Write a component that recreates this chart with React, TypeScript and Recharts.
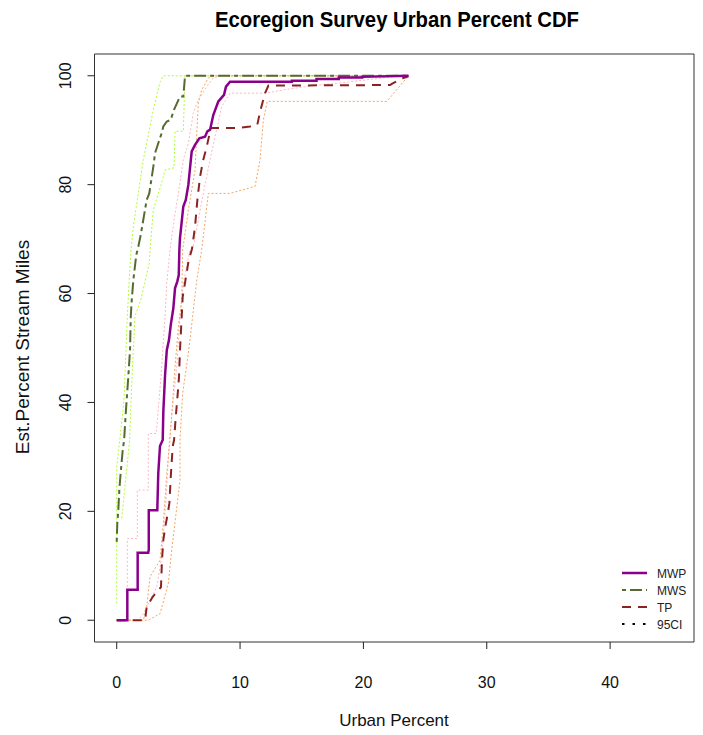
import React from 'react';
import { LineChart, Line, XAxis, YAxis, ReferenceArea } from 'recharts';

// CDF curves: [urban percent, est. percent stream miles]
const mwp: [number, number][] = [
  [0, 0], [0.86, 0], [0.86, 5.6], [1.7, 5.6], [1.7, 12.4], [2.56, 12.4], [2.6, 13], [2.6, 20.2],
  [3.29, 20.2], [3.37, 27], [3.51, 32], [3.73, 33.1], [3.78, 38.3], [3.92, 45], [4.06, 49.6],
  [4.24, 51.5], [4.38, 54.2], [4.59, 57.3], [4.73, 61], [4.91, 62.2], [5.03, 63.4], [5.08, 68],
  [5.13, 70.2], [5.4, 76], [5.6, 77.2], [5.81, 80], [6.08, 86.1], [6.35, 87.3], [6.7, 88.5],
  [7.16, 88.8], [7.35, 89.8], [7.57, 90.1], [7.83, 92.8], [8.24, 95.3], [8.7, 96.5], [8.86, 98],
  [9.19, 98.9], [14.2, 98.9], [14.2, 99.1], [16.2, 99.1], [16.2, 99.4], [18.0, 99.4], [18.0, 99.7],
  [19.9, 99.7], [19.9, 99.8], [23.65, 100],
];

const mws: [number, number][] = [
  [0, 14.4], [0.05, 17.8], [0.13, 20.2], [0.21, 23.9], [0.32, 27], [0.49, 31.3], [0.6, 33.1],
  [0.75, 38.6], [0.94, 44.7], [1.08, 49.6], [1.14, 55.8], [1.22, 58.8], [1.35, 62.5], [1.54, 66.2],
  [1.62, 67.4], [1.75, 68.6], [1.95, 70.8], [2.43, 77.2], [2.64, 78.4], [2.97, 83.3], [3.11, 85.8],
  [3.37, 87.6], [3.65, 89.5], [3.78, 90.7], [4.06, 91.6], [4.38, 91.9], [4.65, 93.8], [5.13, 96.2],
  [5.4, 96.2], [5.54, 100], [23.7, 100],
];

const tp: [number, number][] = [
  [0, 0], [2.3, 0], [2.43, 2.4], [2.92, 4.3], [3.59, 6.1], [3.67, 11], [3.78, 14.7], [3.94, 17.2],
  [4.14, 19.6], [4.27, 21.5], [4.4, 27], [4.54, 31.9], [4.65, 33.1], [4.79, 37.4], [4.95, 41.7],
  [5.05, 44.7], [5.13, 49.6], [5.27, 55.8], [5.35, 59.4], [5.62, 63.1], [5.84, 66.2], [6.08, 68],
  [6.13, 68.6], [6.35, 72.3], [6.54, 77.2], [6.76, 81.5], [7.02, 84.6], [7.3, 87], [7.57, 89.8],
  [7.65, 90.4], [9.73, 90.4], [10.81, 90.7], [11.4, 91], [11.62, 93.4], [12.03, 96.8], [12.3, 98.2],
  [22.17, 98.3], [22.3, 98.5], [23.24, 99.6], [23.65, 99.9],
];

// 95% confidence bounds
const mwsUpper: [number, number][] = [
  [0, 3.1], [0, 28.2], [0.25, 33.1], [0.59, 40.4], [0.75, 49.6], [0.86, 55.8], [1.0, 61.9],
  [1.16, 68], [1.35, 72.3], [1.75, 78.4], [2.03, 82.7], [2.16, 84.6], [2.7, 90.7], [2.97, 93.8],
  [3.29, 96.8], [3.51, 98.8], [3.78, 100], [23.7, 100],
];
const mwsLower: [number, number][] = [
  [0.41, 18.7], [1.05, 33.1], [1.22, 43.5], [1.35, 49.6], [1.48, 55.8], [1.95, 58.8], [2.64, 65.6],
  [2.7, 68], [2.97, 75.4], [3.37, 78.4], [3.57, 79.7], [3.92, 82.7], [4.65, 83.1], [4.73, 89.8],
  [5.4, 89.8], [5.54, 100], [23.7, 100],
];
const mwpUpper: [number, number][] = [
  [0, 0], [0.86, 0], [0.86, 15], [1.67, 15], [1.67, 23.9], [2.56, 23.9], [2.56, 34.3], [3.2, 34.3],
  [3.59, 44.7], [3.73, 49.6], [3.92, 55.8], [4.06, 61.9], [4.32, 68], [4.65, 73.5], [5.0, 78.4],
  [5.4, 84.6], [5.81, 87.6], [6.21, 93.1], [6.62, 95.6], [7.3, 98], [7.83, 99.6], [8.38, 100],
  [23.7, 100],
];
const mwpLower: [number, number][] = [
  [0, 0], [1.75, 0], [2.16, 1.2], [3.24, 6.1], [3.65, 11.6], [4.0, 22], [4.27, 33.1], [4.59, 40.4],
  [4.87, 46.6], [5.13, 55.8], [5.4, 61.9], [5.94, 68], [6.21, 68.6], [7.02, 78.4], [7.57, 84.6],
  [7.97, 88.8], [8.52, 94.4], [9.19, 96.8], [12.03, 96.8], [13.79, 97.5], [16.22, 98.3],
  [17.84, 98.6], [21.9, 99.7], [23.65, 100],
];
const tpUpper: [number, number][] = [
  [0, 0], [2.16, 0], [2.43, 2.4], [2.7, 8], [3.51, 11], [3.78, 17.8], [4.06, 27], [4.32, 33.1],
  [4.73, 46.6], [5.0, 53.9], [5.27, 58.8], [5.35, 68], [5.81, 75.4], [6.35, 82.7], [6.49, 89.5],
  [6.62, 95], [6.89, 97.4], [7.43, 99.6], [8.0, 100], [23.7, 100],
];
const tpLower: [number, number][] = [
  [0, 0], [2.56, 0], [3.51, 1.2], [4.18, 6.7], [4.46, 12.9], [5.13, 25.7], [5.13, 33.1],
  [5.35, 41.7], [5.73, 47.8], [5.94, 51.5], [6.49, 62.5], [6.89, 68], [7.43, 78.4], [9.19, 78.4],
  [11.22, 79.7], [11.62, 84.6], [11.89, 91.9], [12.21, 95.3], [21.9, 95.3], [23.65, 100],
];

const xTicks = [0, 10, 20, 30, 40];
const yTicks = [0, 20, 40, 60, 80, 100];

const legendItems = [
  { name: 'MWP', color: '#8B008B', dash: undefined, width: 2.5 },
  { name: 'MWS', color: '#556B2F', dash: '4 4 12 4', width: 2 },
  { name: 'TP', color: '#8B2323', dash: '9 7', width: 2 },
  { name: '95CI', color: '#000000', dash: '2.5 8', width: 2 },
];

const rows = (pts: [number, number][]) => pts.map(([x, y]) => ({ x, y }));

const font = "'Liberation Sans', Arial, sans-serif";

const YTick = (props: any) => {
  const { x, y, payload } = props;
  return (
    <text
      x={x}
      y={y}
      transform={`rotate(-90, ${x}, ${y})`}
      textAnchor="middle"
      fontSize={16}
      fontFamily={font}
      fill="#111"
    >
      {payload.value}
    </text>
  );
};

export default function App() {
  return (
    <div style={{ position: 'absolute', left: 0, top: 0, width: 703, height: 735, background: '#fff' }}>
      <LineChart width={703} height={735} margin={{ top: 54, right: 9, left: 34.5, bottom: 43 }}>
        <XAxis
          type="number"
          dataKey="x"
          domain={[-1.8, 46.8]}
          ticks={xTicks}
          allowDataOverflow
          axisLine={false}
          tickSize={7}
          tickMargin={28}
          height={50}
          tickLine={{ stroke: '#222' }}
          tick={{ fontSize: 16, fontFamily: font, fill: '#111' }}
        />
        <YAxis
          type="number"
          domain={[-4, 104]}
          ticks={yTicks}
          allowDataOverflow
          axisLine={false}
          tickSize={7}
          tickMargin={16}
          width={60}
          tickLine={{ stroke: '#222' }}
          tick={<YTick />}
        />
        <ReferenceArea x1={-1.8} x2={46.8} y1={-4} y2={104} fill="none" stroke="#333" strokeWidth={1} />
        <Line data={rows(mwsUpper)} dataKey="y" stroke="#ADFF2F" strokeWidth={1} strokeDasharray="2 2" dot={false} activeDot={false} isAnimationActive={false} />
        <Line data={rows(mwsLower)} dataKey="y" stroke="#ADFF2F" strokeWidth={1} strokeDasharray="2 2" dot={false} activeDot={false} isAnimationActive={false} />
        <Line data={rows(mwpUpper)} dataKey="y" stroke="#FFB6C1" strokeWidth={1} strokeDasharray="2 2" dot={false} activeDot={false} isAnimationActive={false} />
        <Line data={rows(mwpLower)} dataKey="y" stroke="#FFB6C1" strokeWidth={1} strokeDasharray="2 2" dot={false} activeDot={false} isAnimationActive={false} />
        <Line data={rows(tpUpper)} dataKey="y" stroke="#F4A460" strokeWidth={1} strokeDasharray="2 2" dot={false} activeDot={false} isAnimationActive={false} />
        <Line data={rows(tpLower)} dataKey="y" stroke="#F4A460" strokeWidth={1} strokeDasharray="2 2" dot={false} activeDot={false} isAnimationActive={false} />
        <Line data={rows(tp)} dataKey="y" stroke="#8B2323" strokeWidth={2} strokeDasharray="9 7" dot={false} activeDot={false} isAnimationActive={false} />
        <Line data={rows(mws)} dataKey="y" stroke="#556B2F" strokeWidth={2} strokeDasharray="4 4 12 4" dot={false} activeDot={false} isAnimationActive={false} />
        <Line data={rows(mwp)} dataKey="y" stroke="#8B008B" strokeWidth={2.5} dot={false} activeDot={false} isAnimationActive={false} />
      </LineChart>
      <svg width={703} height={735} style={{ position: 'absolute', left: 0, top: 0, pointerEvents: 'none' }}>
        <text x={397} y={27} textAnchor="middle" fontSize={22} fontWeight="bold"
          textLength={364} lengthAdjust="spacingAndGlyphs"
          fontFamily="'Liberation Sans Narrow', 'Liberation Sans', Arial, sans-serif" fill="#000">
          Ecoregion Survey Urban Percent CDF
        </text>
        <text x={394} y={726} textAnchor="middle" fontSize={17} fontFamily={font} fill="#111">
          Urban Percent
        </text>
        <text x={29} y={347} transform="rotate(-90, 29, 347)" textAnchor="middle" fontSize={19} fontFamily={font} fill="#111">
          Est.Percent Stream Miles
        </text>
        {legendItems.map((it, i) => {
          const y = 573 + i * 17;
          return (
            <g key={it.name}>
              <line x1={622} x2={647} y1={y} y2={y} stroke={it.color} strokeWidth={it.width} strokeDasharray={it.dash} />
              <text x={657} y={y + 4.5} fontSize={12} fontFamily={font} fill="#222">{it.name}</text>
            </g>
          );
        })}
      </svg>
    </div>
  );
}
